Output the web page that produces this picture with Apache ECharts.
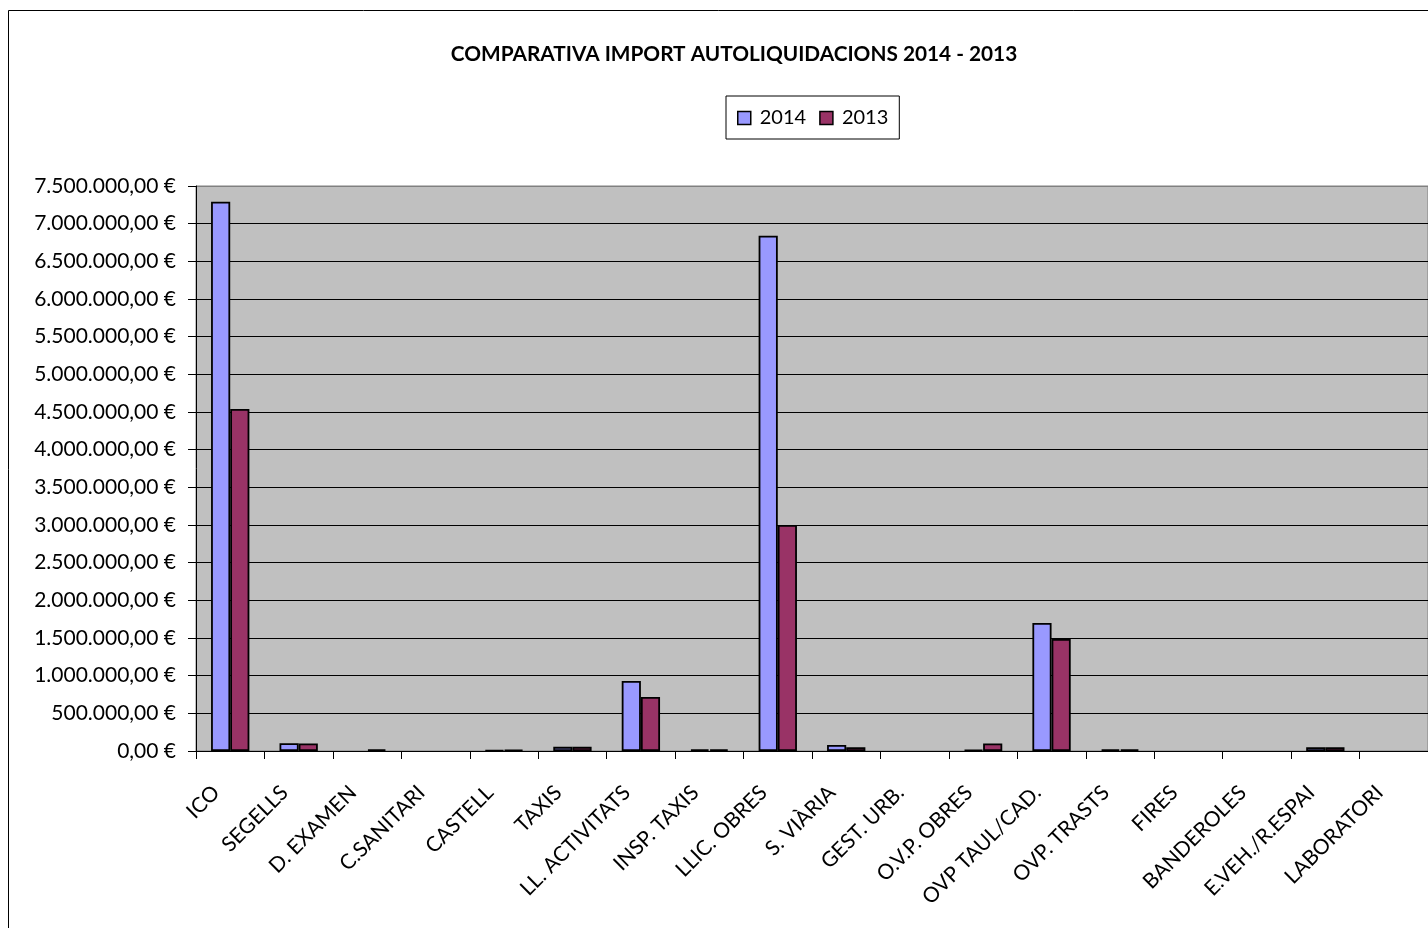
<!DOCTYPE html>
<html>
<head>
<meta charset="utf-8">
<script src="https://cdn.jsdelivr.net/npm/echarts@6/dist/echarts.min.js"></script>
<style>
html,body{margin:0;padding:0;background:#fff;}
#c{width:1428px;height:928px;}
</style>
</head>
<body>
<div id="c"></div>
<script>
const categories = ["ICO","SEGELLS","D. EXAMEN","C.SANITARI","CASTELL","TAXIS","LL. ACTIVITATS","INSP. TAXIS","LLIC. OBRES","S. VIÀRIA","GEST. URB.","O.V.P. OBRES","OVP TAUL/CAD.","OVP. TRASTS","FIRES","BANDEROLES","E.VEH./R.ESPAI","LABORATORI"];
const values2014 = [7290000,102000,0,0,12000,55000,930000,20000,6840000,80000,0,15000,1700000,20000,0,0,50000,0];
const values2013 = [4540000,100000,22000,0,15000,55000,717000,20000,3000000,50000,0,100000,1487000,20000,0,0,50000,0];
const seriesNames = ["2014","2013"];
const titleText = "COMPARATIVA IMPORT AUTOLIQUIDACIONS 2014 - 2013";

function fmtEuro(v){
  const s = Math.round(v).toString().replace(/\B(?=(\d{3})+(?!\d))/g, ".");
  return s + ",00 €";
}
function hideZero(arr){ return arr.map(v => v === 0 ? '-' : v); }
const FONT = "Lato";
const chart = echarts.init(document.getElementById('c'), null, {renderer:'canvas'});
const splitColors = [];
for (let i=0;i<15;i++) splitColors.push('#000');
splitColors.push('#808080');
chart.setOption({
  animation:false,
  backgroundColor:'#fff',
  textStyle:{fontFamily:FONT},
  graphic:[{type:'rect', shape:{x:8.5,y:10.5,width:1440,height:940}, style:{fill:'none',stroke:'#000',lineWidth:1}, silent:true, z:-10}],
  title:{text:titleText, top:39, left:729, textAlign:'center', textStyle:{fontFamily:FONT,fontSize:20.8,fontWeight:'bold',color:'#000'}},
  legend:{data:seriesNames, left:726, top:96, orient:'horizontal', borderColor:'#000', borderWidth:1, padding:[12,11,11,11], itemWidth:13, itemHeight:13, itemGap:13,
    textStyle:{fontFamily:FONT,fontSize:20,color:'#000',padding:[0,0,0,4]}, icon:'rect',
    itemStyle:{borderColor:'#000',borderWidth:1.5}},
  grid:{left:196, top:186, width:1234, height:565, show:true, backgroundColor:'#C0C0C0', borderColor:'#808080', borderWidth:1},
  xAxis:{type:'category', data:categories,
    axisLine:{lineStyle:{color:'#000',width:1}},
    axisTick:{show:true,length:8,lineStyle:{color:'#000'}},
    axisLabel:{rotate:45, interval:0, fontFamily:FONT, fontSize:21, color:'#000', margin:24, padding:[0,20,0,0]}},
  yAxis:{type:'value', min:0, max:7500000, interval:500000,
    axisLine:{show:true,lineStyle:{color:'#000',width:1}},
    axisTick:{show:true,length:8,lineStyle:{color:'#000'}},
    axisLabel:{formatter:fmtEuro, fontFamily:FONT, fontSize:21, color:'#000', margin:20},
    splitLine:{show:true,lineStyle:{color:splitColors,width:1}}},
  series:[
    {name:seriesNames[0], type:'bar', data:hideZero(values2014), barGap:'0%', barCategoryGap:'44%', itemStyle:{color:'#9999FF',borderColor:'#000',borderWidth:1.8}},
    {name:seriesNames[1], type:'bar', data:hideZero(values2013), barGap:'0%', barCategoryGap:'44%', itemStyle:{color:'#993366',borderColor:'#000',borderWidth:1.8}}
  ]
});
</script>
</body>
</html>
